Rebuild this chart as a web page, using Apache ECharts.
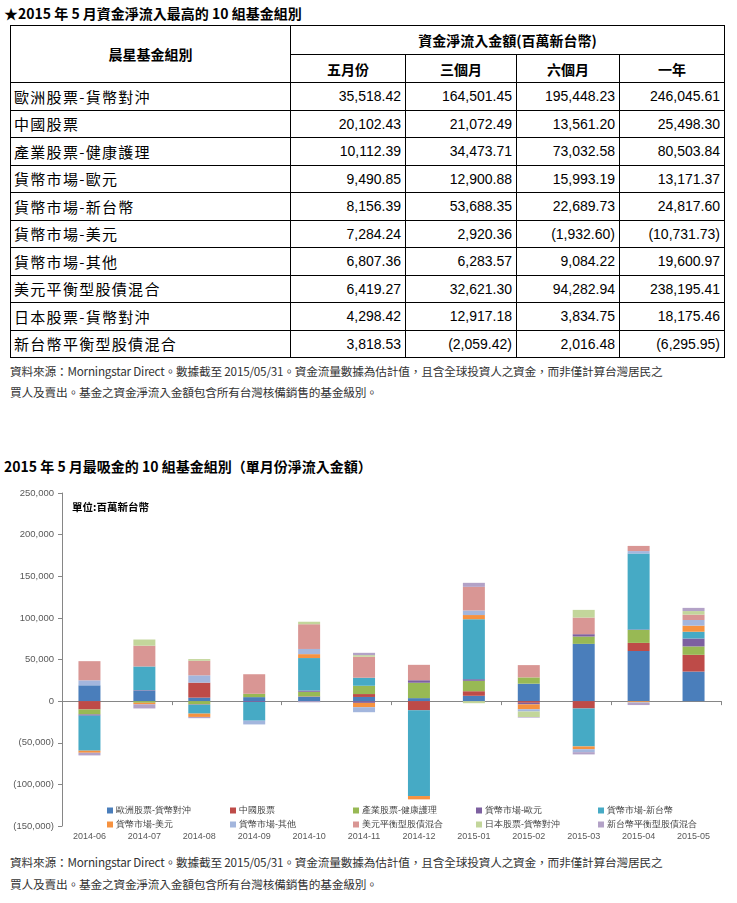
<!DOCTYPE html>
<html><head><meta charset="utf-8">
<script src="https://cdn.jsdelivr.net/npm/echarts@6/dist/echarts.min.js"></script>
<style>
html,body{margin:0;padding:0;background:#fff;}
body{width:737px;height:903px;position:relative;overflow:hidden;font-family:"Noto Sans CJK TC","Noto Sans",sans-serif;color:#000;}
.t{position:absolute;white-space:nowrap;}
.title{font-weight:bold;font-size:14px;line-height:16px;}
.note{font-size:11.7px;color:#333;line-height:14px;letter-spacing:-0.2px;}
table{position:absolute;left:10px;top:25px;border-collapse:collapse;table-layout:fixed;width:714px;}
td,th{border:1px solid #000;padding:0 4px;overflow:hidden;white-space:nowrap;}
th{font-weight:bold;font-size:14px;text-align:center;}
td.c{font-size:15px;letter-spacing:1.3px;text-align:left;padding-left:3px;}
td.n{font-family:"Liberation Sans Narrow","Liberation Sans",Arial,sans-serif;font-size:14px;text-align:right;padding-right:4px;}
#chart{position:absolute;left:0;top:478px;width:737px;height:372px;}
</style></head>
<body>
<div class="t title" style="left:4px;top:5px;">★2015 年 5 月資金淨流入最高的 10 組基金組別</div>
<table id="tbl">
<colgroup><col style="width:280px"><col style="width:115px"><col style="width:111px"><col style="width:103px"><col style="width:105px"></colgroup>
<tr style="height:29px"><th rowspan="2">晨星基金組別</th><th colspan="4">資金淨流入金額(百萬新台幣)</th></tr>
<tr id="hdr2" style="height:28px"></tr>
</table>
<div class="t note" style="left:10px;top:364px;">資料來源：Morningstar Direct。數據截至 2015/05/31。資金流量數據為估計值，且含全球投資人之資金，而非僅計算台灣居民之</div>
<div class="t note" style="left:10px;top:385px;">買人及賣出。基金之資金淨流入金額包含所有台灣核備銷售的基金級別。</div>
<div class="t title" style="left:4px;top:458px;">2015 年 5 月最吸金的 10 組基金組別（單月份淨流入金額）</div>
<div id="chart"></div>
<div class="t note" style="left:10px;top:855px;">資料來源：Morningstar Direct。數據截至 2015/05/31。資金流量數據為估計值，且含全球投資人之資金，而非僅計算台灣居民之</div>
<div class="t note" style="left:10px;top:877px;">買人及賣出。基金之資金淨流入金額包含所有台灣核備銷售的基金級別。</div>
<script>
// ---- Table data ----
const tableHeaders = ['五月份','三個月','六個月','一年'];
const tableCategories = ['歐洲股票-貨幣對沖','中國股票','產業股票-健康護理','貨幣市場-歐元','貨幣市場-新台幣','貨幣市場-美元','貨幣市場-其他','美元平衡型股債混合','日本股票-貨幣對沖','新台幣平衡型股債混合'];
const tableMay = [35518.42,20102.43,10112.39,9490.85,8156.39,7284.24,6807.36,6419.27,4298.42,3818.53];
const table3M = [164501.45,21072.49,34473.71,12900.88,53688.35,2920.36,6283.57,32621.30,12917.18,-2059.42];
const table6M = [195448.23,13561.20,73032.58,15993.19,22689.73,-1932.60,9084.22,94282.94,3834.75,2016.48];
const table1Y = [246045.61,25498.30,80503.84,13171.37,24817.60,-10731.73,19600.97,238195.41,18175.46,-6295.95];

// ---- Chart data ----
const months = ['2014-06','2014-07','2014-08','2014-09','2014-10','2014-11','2014-12','2015-01','2015-02','2015-03','2015-04','2015-05'];
const seriesNames = ['歐洲股票-貨幣對沖','中國股票','產業股票-健康護理','貨幣市場-歐元','貨幣市場-新台幣','貨幣市場-美元','貨幣市場-其他','美元平衡型股債混合','日本股票-貨幣對沖','新台幣平衡型股債混合'];
const sEurope  = [19000,12300,4200,4800,5300,4998,3600,6400,20947,68800,60183,35518.42];
const sChina   = [-10000,0,18000,0,437,3500,-11000,5500,-2011,-8800,9770,20102.43];
const sHealth  = [-6000,-2000,-4000,4000,5500,9971,18500,12500,7559,8800,15562,10112.39];
const sEUR     = [-1500,800,-500,-1000,1500,-2122,3000,2000,-1908,2800,610,9490.85];
const sTWD     = [-42000,28500,-10500,-22500,39000,9628,-103000,72002,0,-45600,91132,8156.39];
const sUSD     = [-2500,-1800,-4000,0,4700,-5199,-4000,5000,-5853,-3400,-964,7284.24];
const sOther   = [6000,0,8800,-4500,6217,-6000,0,5500,-2700,-3500,2977,6807.36];
const sUSDBal  = [23000,25000,17500,23500,29712,25200,18500,28400,14762,20000,6202,6419.27];
const sJapan   = [0,7400,2000,0,3000,1940,0,-2500,-6582,9200,-581,4298.42];
const sTWDBal  = [-3200,-5000,-1500,0,-1412,2800,0,4800,-725,-2700,-3178,3818.53];
const yTicks = [-150000,-100000,-50000,0,50000,100000,150000,200000,250000];

const seriesData = [sEurope,sChina,sHealth,sEUR,sTWD,sUSD,sOther,sUSDBal,sJapan,sTWDBal];
const colors = ['#4A7EBB','#BE4B48','#98B954','#7D60A0','#46AAC5','#F69240','#A3B6DD','#D99694','#C3D69B','#B3A2C7'];

function fmt(v){
  const s = Math.abs(v).toLocaleString('en-US',{minimumFractionDigits:2,maximumFractionDigits:2});
  return v<0 ? '('+s+')' : s;
}
const hdr2 = document.getElementById('hdr2');
tableHeaders.forEach(h=>{const th=document.createElement('th');th.textContent=h;hdr2.appendChild(th);});
const tbl = document.getElementById('tbl');
tableCategories.forEach((c,i)=>{
  const tr=document.createElement('tr'); tr.style.height='27.5px';
  const td=document.createElement('td'); td.className='c'; td.textContent=c; tr.appendChild(td);
  [tableMay,table3M,table6M,table1Y].forEach(arr=>{const d=document.createElement('td');d.className='n';d.textContent=fmt(arr[i]);tr.appendChild(d);});
  tbl.appendChild(tr);
});

function yfmt(v){
  if(v===0) return '0';
  const s=Math.abs(v).toLocaleString('en-US');
  return v<0?'('+s+')':s;
}

const chart = echarts.init(document.getElementById('chart'));
const legendLefts = [102,225,348,471,593];
const legends = legendLefts.map((l,i)=>({
  left:l, top:322, orient:'vertical', itemWidth:6, itemHeight:6, itemGap:3, icon:'rect',
  data:[seriesNames[i],seriesNames[i+5]],
  textStyle:{fontSize:9,color:'#404040',lineHeight:11,padding:[0,0,0,-2]},
  selectedMode:false
}));
chart.setOption({
  animation:false,
  color:colors,
  grid:{left:62,right:16,top:15,bottom:24},
  legend:legends,
  graphic:[{type:'text',left:72,top:24,style:{text:'單位:百萬新台幣',font:'bold 10.5px "Noto Sans CJK TC"',fill:'#000'}}],
  xAxis:[
    {type:'category',data:months,position:'bottom',axisLine:{show:false,onZero:false},axisTick:{show:false},
     axisLabel:{fontSize:9,color:'#595959',margin:6,fontFamily:'Liberation Sans'}},
    {type:'category',data:months,position:'bottom',axisLine:{show:true,onZero:true,lineStyle:{color:'#868686',width:1}},
     axisTick:{show:true,length:4,lineStyle:{color:'#868686'}},axisLabel:{show:false}}
  ],
  yAxis:{type:'value',min:yTicks[0],max:yTicks[yTicks.length-1],interval:50000,
    axisLine:{show:true,lineStyle:{color:'#868686'}},axisTick:{show:true,length:4,lineStyle:{color:'#868686'}},
    splitLine:{show:false},
    axisLabel:{formatter:yfmt,fontSize:9.5,color:'#595959',margin:8,fontFamily:'Liberation Sans'}},
  series:seriesNames.map((n,i)=>({
    name:n,type:'bar',stack:'total',xAxisIndex:0,barWidth:22,data:seriesData[i],
    itemStyle:{color:colors[i]}
  }))
});
</script>
</body></html>
